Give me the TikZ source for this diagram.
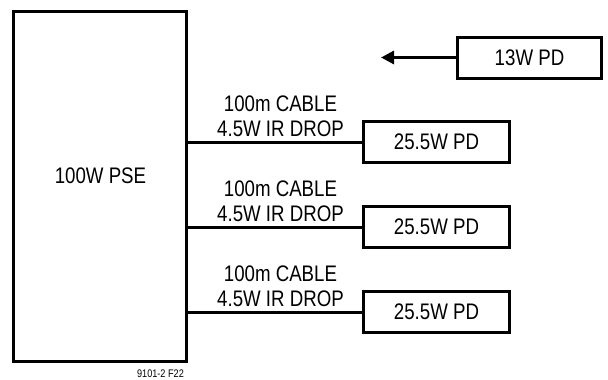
\documentclass[tikz,border=0pt]{standalone}
\usepackage{fontspec}
\setmainfont[FakeStretch=0.83]{Liberation Sans}
\usetikzlibrary{arrows.meta}
\begin{document}
\begin{tikzpicture}[x=1pt,y=-1pt,
  box/.style={draw,line width=3pt,inner sep=0pt,font=\fontsize{22.5}{26}\selectfont},
  pdbox/.style={box,minimum width=146pt,minimum height=41pt},
  wire/.style={line width=3pt},
  lbl/.style={font=\fontsize{22.5}{26}\selectfont,anchor=base,inner sep=0pt},
  small/.style={font=\fontsize{11}{13}\selectfont,anchor=base,inner sep=0pt}]
\useasboundingbox (0,0) rectangle (608,380);
% PSE
\node[box,minimum width=172.5pt,minimum height=349.5pt] (pse) at (99.75,186.25) {};
\node[lbl] (pselbl) at (100.5,183) {100W PSE};
% PDs
\node[pdbox] (pd1) at (436.5,142) {25.5W PD};
\node[pdbox] (pd2) at (436.5,227) {25.5W PD};
\node[pdbox] (pd3) at (436.5,312) {25.5W PD};
\node[box,minimum width=144pt,minimum height=41pt] (pd0) at (529.5,57.5) {13W PD};
\coordinate (tip) at (381,57.5);
% wires
\draw[wire] (pd1.west -| pse.east) -- (pd1.west);
\draw[wire] (pd2.west -| pse.east) -- (pd2.west);
\draw[wire] (pd3.west -| pse.east) -- (pd3.west);
\draw[wire,-{Triangle[length=13pt,width=13pt]}] (pd0.west) -- (tip);
% labels
\node[lbl] (c1a) at (280.5,111.5) {100m CABLE};
\node[lbl] (c1b) at (280.5,136) {4.5W IR DROP};
\node[lbl] (c2a) at (280.5,196.5) {100m CABLE};
\node[lbl] (c2b) at (280.5,221) {4.5W IR DROP};
\node[lbl] (c3a) at (280.5,281.5) {100m CABLE};
\node[lbl] (c3b) at (280.5,306) {4.5W IR DROP};
\node[small] (fig) at (160.5,377) {9101-2 F22};
\end{tikzpicture}
\end{document}
